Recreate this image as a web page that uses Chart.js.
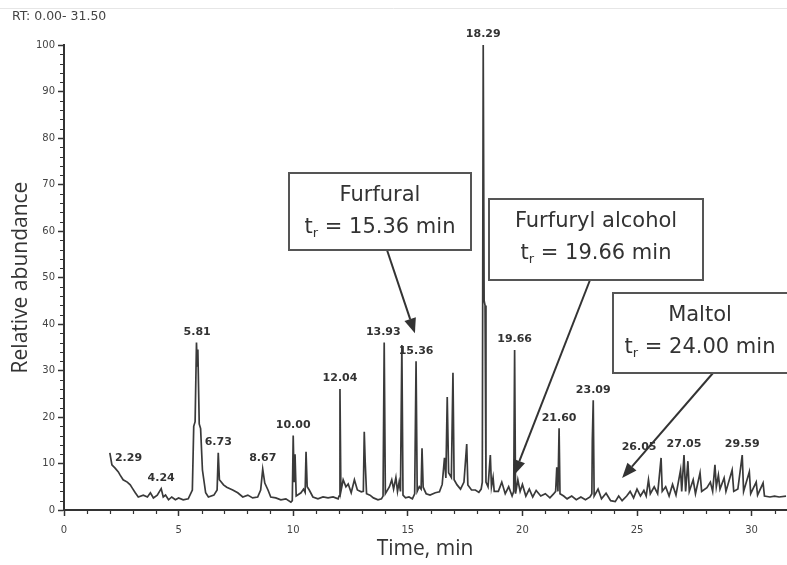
<!DOCTYPE html>
<html>
<head>
<meta charset="utf-8">
<title>Chromatogram</title>
<script src="https://cdn.jsdelivr.net/npm/chart.js@4.4.1/dist/chart.umd.min.js"></script>
<style>
  body { margin: 0; background: #fff; }
  canvas { display: block; }
</style>
</head>
<body>
<canvas id="chrom" width="787" height="565"></canvas>
<script>
// retention time (min) and relative abundance (%)
const rtMin = [
  2.00, 2.09, 2.23, 2.37, 2.45, 2.58, 2.76, 2.89, 2.98, 3.11,
  3.24, 3.46, 3.64, 3.77, 3.90, 4.07, 4.24, 4.33, 4.43, 4.56,
  4.70, 4.86, 5.00, 5.20, 5.42, 5.60, 5.66, 5.72, 5.78, 5.81,
  5.84, 5.90, 5.96, 6.04, 6.18, 6.30, 6.54, 6.68, 6.73, 6.78,
  6.96, 7.10, 7.36, 7.58, 7.80, 8.02, 8.23, 8.45, 8.58, 8.67,
  8.76, 8.90, 9.02, 9.24, 9.46, 9.68, 9.90, 9.96, 10.00, 10.04,
  10.08, 10.13, 10.34, 10.45, 10.52, 10.56, 10.61, 10.70, 10.86, 11.08,
  11.30, 11.52, 11.74, 11.96, 12.00, 12.04, 12.08, 12.18, 12.30, 12.40,
  12.53, 12.67, 12.80, 12.97, 13.06, 13.10, 13.14, 13.20, 13.35, 13.50,
  13.70, 13.85, 13.92, 13.97, 14.02, 14.20, 14.30, 14.38, 14.48, 14.55,
  14.62, 14.68, 14.74, 14.79, 14.90, 15.05, 15.20, 15.30, 15.36, 15.41,
  15.50, 15.58, 15.62, 15.67, 15.80, 15.97, 16.20, 16.38, 16.50, 16.60,
  16.66, 16.72, 16.78, 16.90, 16.97, 17.02, 17.15, 17.30, 17.45, 17.57,
  17.62, 17.78, 17.95, 18.10, 18.20, 18.25, 18.29, 18.33, 18.37, 18.41,
  18.50, 18.60, 18.65, 18.72, 18.77, 18.95, 19.10, 19.25, 19.40, 19.55,
  19.62, 19.66, 19.70, 19.80, 19.90, 20.00, 20.15, 20.30, 20.45, 20.60,
  20.80, 21.00, 21.20, 21.35, 21.45, 21.50, 21.55, 21.60, 21.64, 21.80,
  21.95, 22.15, 22.35, 22.55, 22.75, 22.95, 23.03, 23.05, 23.09, 23.13,
  23.30, 23.45, 23.65, 23.85, 24.05, 24.20, 24.35, 24.55, 24.70, 24.85,
  25.00, 25.15, 25.30, 25.40, 25.50, 25.58, 25.75, 25.90, 26.05, 26.10,
  26.25, 26.40, 26.55, 26.70, 26.90, 26.95, 27.05, 27.12, 27.22, 27.28,
  27.45, 27.55, 27.75, 27.82, 28.05, 28.20, 28.30, 28.40, 28.46, 28.55,
  28.62, 28.80, 28.88, 29.15, 29.22, 29.40, 29.59, 29.65, 29.90, 29.96,
  30.20, 30.26, 30.50, 30.56, 30.80, 31.00, 31.20, 31.50
];
const abundance = [
  12.3, 9.7, 9.0, 8.2, 7.5, 6.5, 6.0, 5.4, 4.7, 3.7,
  2.8, 3.2, 2.8, 3.7, 2.6, 3.2, 4.6, 2.8, 3.2, 2.2,
  2.8, 2.2, 2.6, 2.2, 2.4, 4.3, 18.0, 19.0, 36.0, 31.0,
  34.5, 18.5, 17.5, 8.6, 3.7, 2.8, 3.2, 4.3, 12.3, 6.5,
  5.4, 4.9, 4.3, 3.7, 2.8, 3.2, 2.6, 2.8, 4.3, 8.8,
  5.8, 4.3, 2.8, 2.6, 2.2, 2.4, 1.7, 2.0, 16.0, 6.0,
  12.0, 3.0, 3.7, 4.5, 3.8, 12.5, 5.0, 4.3, 2.8, 2.4,
  2.8, 2.6, 2.8, 2.4, 3.0, 26.0, 4.0, 6.5, 5.0, 5.6,
  3.7, 6.5, 4.3, 3.9, 4.0, 16.8, 10.5, 3.5, 3.2, 2.6,
  2.2, 2.4, 3.0, 36.0, 3.5, 5.0, 6.5, 4.5, 7.0, 4.0,
  6.0, 4.0, 35.5, 3.2, 2.6, 2.8, 2.4, 3.5, 32.0, 4.0,
  5.0, 4.5, 13.3, 4.9, 3.5, 3.2, 3.7, 3.9, 5.5, 11.2,
  6.9, 24.3, 8.0, 7.0, 29.5, 6.5, 5.4, 4.5, 6.0, 14.2,
  5.4, 4.3, 4.3, 3.8, 4.5, 6.0, 100, 45.0, 44.0, 6.0,
  5.0, 11.8, 5.0, 7.0, 4.0, 4.0, 6.0, 3.5, 5.0, 3.0,
  4.0, 34.4, 3.5, 6.5, 4.0, 5.5, 3.0, 4.5, 2.8, 4.2,
  3.0, 3.5, 2.6, 3.4, 4.0, 9.2, 4.0, 17.6, 3.5, 3.0,
  2.4, 3.0, 2.2, 2.8, 2.2, 2.8, 3.5, 15.0, 23.6, 3.0,
  4.5, 2.4, 3.6, 2.0, 1.8, 3.0, 2.0, 3.0, 4.0, 2.6,
  4.5, 3.0, 4.2, 3.0, 6.5, 3.5, 5.0, 3.5, 11.2, 4.0,
  5.0, 3.0, 5.5, 3.2, 8.6, 4.0, 11.8, 4.0, 10.5, 4.0,
  6.5, 3.5, 8.0, 4.0, 4.8, 6.0, 4.0, 9.7, 5.0, 7.5,
  4.5, 6.9, 4.0, 8.6, 4.0, 4.5, 11.8, 4.0, 8.2, 3.5,
  6.0, 3.2, 5.8, 3.0, 2.8, 3.0, 2.8, 3.0
];

const xTicks = [0, 5, 10, 15, 20, 25, 30];
const yTicks = [0, 10, 20, 30, 40, 50, 60, 70, 80, 90, 100];

// labelled peaks
const peakLabels = ['2.29', '4.24', '5.81', '6.73', '8.67', '10.00', '12.04', '13.93',
  '15.36', '18.29', '19.66', '21.60', '23.09', '26.05', '27.05', '29.59'];
const peakRt = [2.29, 4.24, 5.81, 6.73, 8.67, 10.00, 12.04, 13.93,
  15.36, 18.29, 19.66, 21.60, 23.09, 26.05, 27.05, 29.59];

// identified compounds and where their arrows point (rt, abundance)
const compounds = ['Furfural', 'Furfuryl alcohol', 'Maltol'];
const compoundRt = ['15.36', '19.66', '24.00'];
const arrowTipRt = [15.31, 19.63, 24.35];
const arrowTipAbund = [38, 7.5, 6.9];

const ink = '#333';
// labels the software nudged sideways to keep clear of neighbours (px)
const labelNudge = { '2.29': 12, '26.05': -22 };

function drawArrow(ctx, x1, y1, x2, y2) {
  const ang = Math.atan2(y2 - y1, x2 - x1);
  const len = 15, half = 6;
  const bx = x2 - len * Math.cos(ang), by = y2 - len * Math.sin(ang);
  ctx.beginPath();
  ctx.moveTo(x1, y1);
  ctx.lineTo(bx, by);
  ctx.stroke();
  ctx.beginPath();
  ctx.moveTo(x2, y2);
  ctx.lineTo(bx + half * Math.sin(ang), by - half * Math.cos(ang));
  ctx.lineTo(bx - half * Math.sin(ang), by + half * Math.cos(ang));
  ctx.closePath();
  ctx.fill();
}

function drawTr(ctx, cx, y, rt) {
  const big = '21px "DejaVu Sans"', small = '13px "DejaVu Sans"';
  const rest = ' = ' + rt + ' min';
  ctx.font = big;
  const wt = ctx.measureText('t').width, wRest = ctx.measureText(rest).width;
  ctx.font = small;
  const wr = ctx.measureText('r').width;
  let x = cx - (wt + wr + wRest) / 2;
  ctx.textAlign = 'left';
  ctx.font = big;
  ctx.fillText('t', x, y);
  x += wt;
  ctx.font = small;
  ctx.fillText('r', x, y + 6);
  x += wr;
  ctx.font = big;
  ctx.fillText(rest, x, y);
}

function drawBox(ctx, l, t, r, b, name, rt, cx) {
  ctx.fillStyle = '#fff';
  ctx.fillRect(l, t, r - l, b - t);
  ctx.strokeStyle = '#555';
  ctx.lineWidth = 2;
  ctx.strokeRect(l, t, r - l, b - t);
  ctx.fillStyle = ink;
  ctx.textBaseline = 'middle';
  ctx.textAlign = 'center';
  ctx.font = '21px "DejaVu Sans"';
  ctx.fillText(name, cx, t + 23);
  drawTr(ctx, cx, t + 55, rt);
}

const decor = {
  id: 'decor',
  afterDraw(chart) {
    const ctx = chart.ctx;
    const xs = chart.scales.x, ys = chart.scales.y;
    ctx.save();

    // faint scan edge at the top
    ctx.strokeStyle = '#e6e6e6';
    ctx.lineWidth = 1;
    ctx.beginPath();
    ctx.moveTo(0, 8.5);
    ctx.lineTo(787, 8.5);
    ctx.stroke();

    // minor ticks
    ctx.strokeStyle = ink;
    ctx.lineWidth = 1.2;
    ctx.beginPath();
    for (let t = 0; t <= 31; t++) {
      if (t % 5 === 0) continue;
      const px = Math.round(xs.getPixelForValue(t)) + 0.5;
      ctx.moveTo(px, ys.bottom);
      ctx.lineTo(px, ys.bottom + 4);
    }
    for (let v = 0; v <= 100; v += 2) {
      if (v % 10 === 0) continue;
      const py = Math.round(ys.getPixelForValue(v)) + 0.5;
      ctx.moveTo(xs.left - 4, py);
      ctx.lineTo(xs.left, py);
    }
    ctx.stroke();

    // range note
    ctx.fillStyle = '#444';
    ctx.font = '12.5px "DejaVu Sans"';
    ctx.textAlign = 'left';
    ctx.textBaseline = 'middle';
    ctx.fillText('RT: 0.00- 31.50', 12, 17);

    // peak labels above each peak top
    ctx.font = 'bold 11px "DejaVu Sans"';
    ctx.fillStyle = ink;
    ctx.textAlign = 'center';
    ctx.textBaseline = 'bottom';
    peakLabels.forEach((txt, i) => {
      let top = 0;
      rtMin.forEach((t, j) => {
        if (Math.abs(t - peakRt[i]) <= 0.08) top = Math.max(top, abundance[j]);
      });
      const nudge = labelNudge[txt] || 0;
      ctx.fillText(txt, xs.getPixelForValue(peakRt[i]) + nudge, ys.getPixelForValue(top) - 5);
    });

    // annotation boxes with arrows
    const boxes = [
      [289, 173, 471, 250, 380, 387],
      [489, 199, 703, 280, 596, 590],
      [613, 293, 792, 373, 700, 713]
    ];
    boxes.forEach((b, i) => {
      ctx.strokeStyle = ink;
      ctx.fillStyle = ink;
      ctx.lineWidth = 2;
      drawArrow(ctx, b[5], b[3], xs.getPixelForValue(arrowTipRt[i]), ys.getPixelForValue(arrowTipAbund[i]));
      drawBox(ctx, b[0], b[1], b[2], b[3], compounds[i], compoundRt[i], b[4]);
    });

    ctx.restore();
  }
};

new Chart(document.getElementById('chrom'), {
  type: 'line',
  data: {
    datasets: [{
      data: rtMin.map((t, i) => ({ x: t, y: abundance[i] })),
      borderColor: '#3a3a3a',
      borderWidth: 1.7,
      pointRadius: 0,
      tension: 0,
      clip: 4
    }]
  },
  options: {
    responsive: false,
    animation: false,
    layout: { padding: { top: 45, right: 1, left: 0, bottom: 0 } },
    plugins: { legend: { display: false }, tooltip: { enabled: false } },
    scales: {
      x: {
        type: 'linear',
        min: 0,
        max: 31.5,
        afterBuildTicks: s => { s.ticks = xTicks.map(v => ({ value: v })); },
        afterFit: s => { s.height = 55; },
        ticks: { color: '#444', padding: 8, font: { family: 'DejaVu Sans', size: 10 }, maxRotation: 0 },
        grid: { drawOnChartArea: false, tickLength: 6, tickColor: ink, tickWidth: 1.5 },
        border: { color: ink, width: 2 },
        title: { display: true, text: 'Time, min', color: ink, padding: { top: 0, bottom: 3 },
          font: { family: 'Open Sans', size: 21 } }
      },
      y: {
        min: 0,
        max: 100,
        afterBuildTicks: s => { s.ticks = yTicks.map(v => ({ value: v })); },
        afterFit: s => { s.width = 64; },
        ticks: { color: '#444', padding: 3, font: { family: 'DejaVu Sans', size: 10 } },
        grid: { drawOnChartArea: false, tickLength: 6, tickColor: ink, tickWidth: 1.5 },
        border: { color: ink, width: 2 },
        title: { display: true, text: 'Relative abundance', color: ink, padding: { top: 8, bottom: 0 },
          font: { family: 'Open Sans', size: 21 } }
      }
    }
  },
  plugins: [decor]
});
</script>
</body>
</html>
